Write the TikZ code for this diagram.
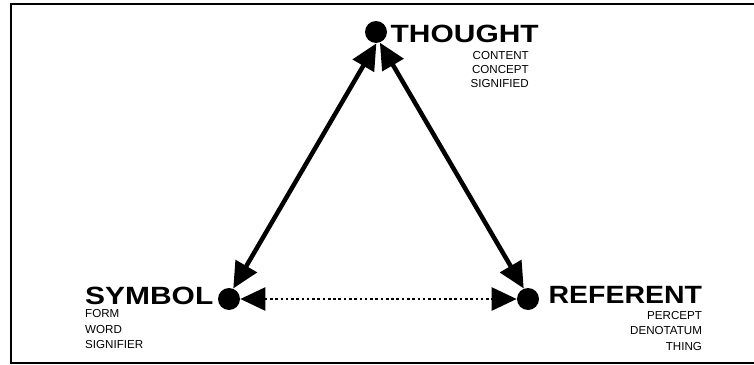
\documentclass[tikz,border=0pt]{standalone}
\usepackage{fontspec}
\setmainfont{Liberation Sans}
\newfontfamily\headfont[FakeStretch=1.2]{Liberation Sans}
\usetikzlibrary{arrows.meta,positioning}

\begin{document}
\begin{tikzpicture}[x=0.02cm,y=-0.02cm,
  dot/.style={circle,fill=black,inner sep=0pt,minimum size=0.44cm},
  head/.style={inner sep=0pt,font=\headfont\bfseries\fontsize{14.2}{16}\selectfont},
  sub/.style={inner sep=0pt,font=\fontsize{6.6}{8.8}\selectfont},
  link/.style={line width=0.09cm,{Triangle[length=0.52cm,width=0.48cm]}-{Triangle[length=0.52cm,width=0.48cm]}},
  dotlink/.style={line width=1.5pt,dash pattern=on 1.5pt off 1.5pt,{Triangle[length=0.5cm,width=0.46cm]}-{Triangle[length=0.5cm,width=0.46cm]}}]
\useasboundingbox (0,0) rectangle (754,365);
\draw[line width=0.04cm] (11,4) rectangle (770,363);
% corners of the triangle
\node[dot] (thought) at (376,32) {};
\node[dot] (symbol) at (229,299) {};
\node[dot] (referent) at (528,299) {};
\node[head,anchor=west] (thoughtlbl) at ([xshift=0.06cm,yshift=-0.04cm]thought.east) {THOUGHT};
\node[sub,anchor=north east,align=right,font=\fontsize{6.6}{8}\selectfont] (thoughtsub) at ([xshift=-0.2cm,yshift=-0.16cm]thoughtlbl.south east) {CONTENT\\CONCEPT\\SIGNIFIED};
\node[head,anchor=east] (symbollbl) at ([xshift=-0.08cm,yshift=0.06cm]symbol.west) {SYMBOL};
\node[sub,anchor=north west,align=left] (symbolsub) at ([yshift=-0.08cm]symbollbl.south west) {FORM\\WORD\\SIGNIFIER};
\node[head,anchor=west,xscale=0.95] (referentlbl) at ([xshift=0.18cm,yshift=0.08cm]referent.east) {REFERENT};
\node[sub,anchor=north east,align=right] (referentsub) at ([yshift=-0.14cm]referentlbl.south east) {PERCEPT\\DENOTATUM\\THING};
% relations
\draw[link] (symbol.68) -- (thought.-88);
\draw[link] (thought.-70) -- (referent.112);
\draw[dotlink] (symbol.east) -- (referent.west);
\end{tikzpicture}
\end{document}
